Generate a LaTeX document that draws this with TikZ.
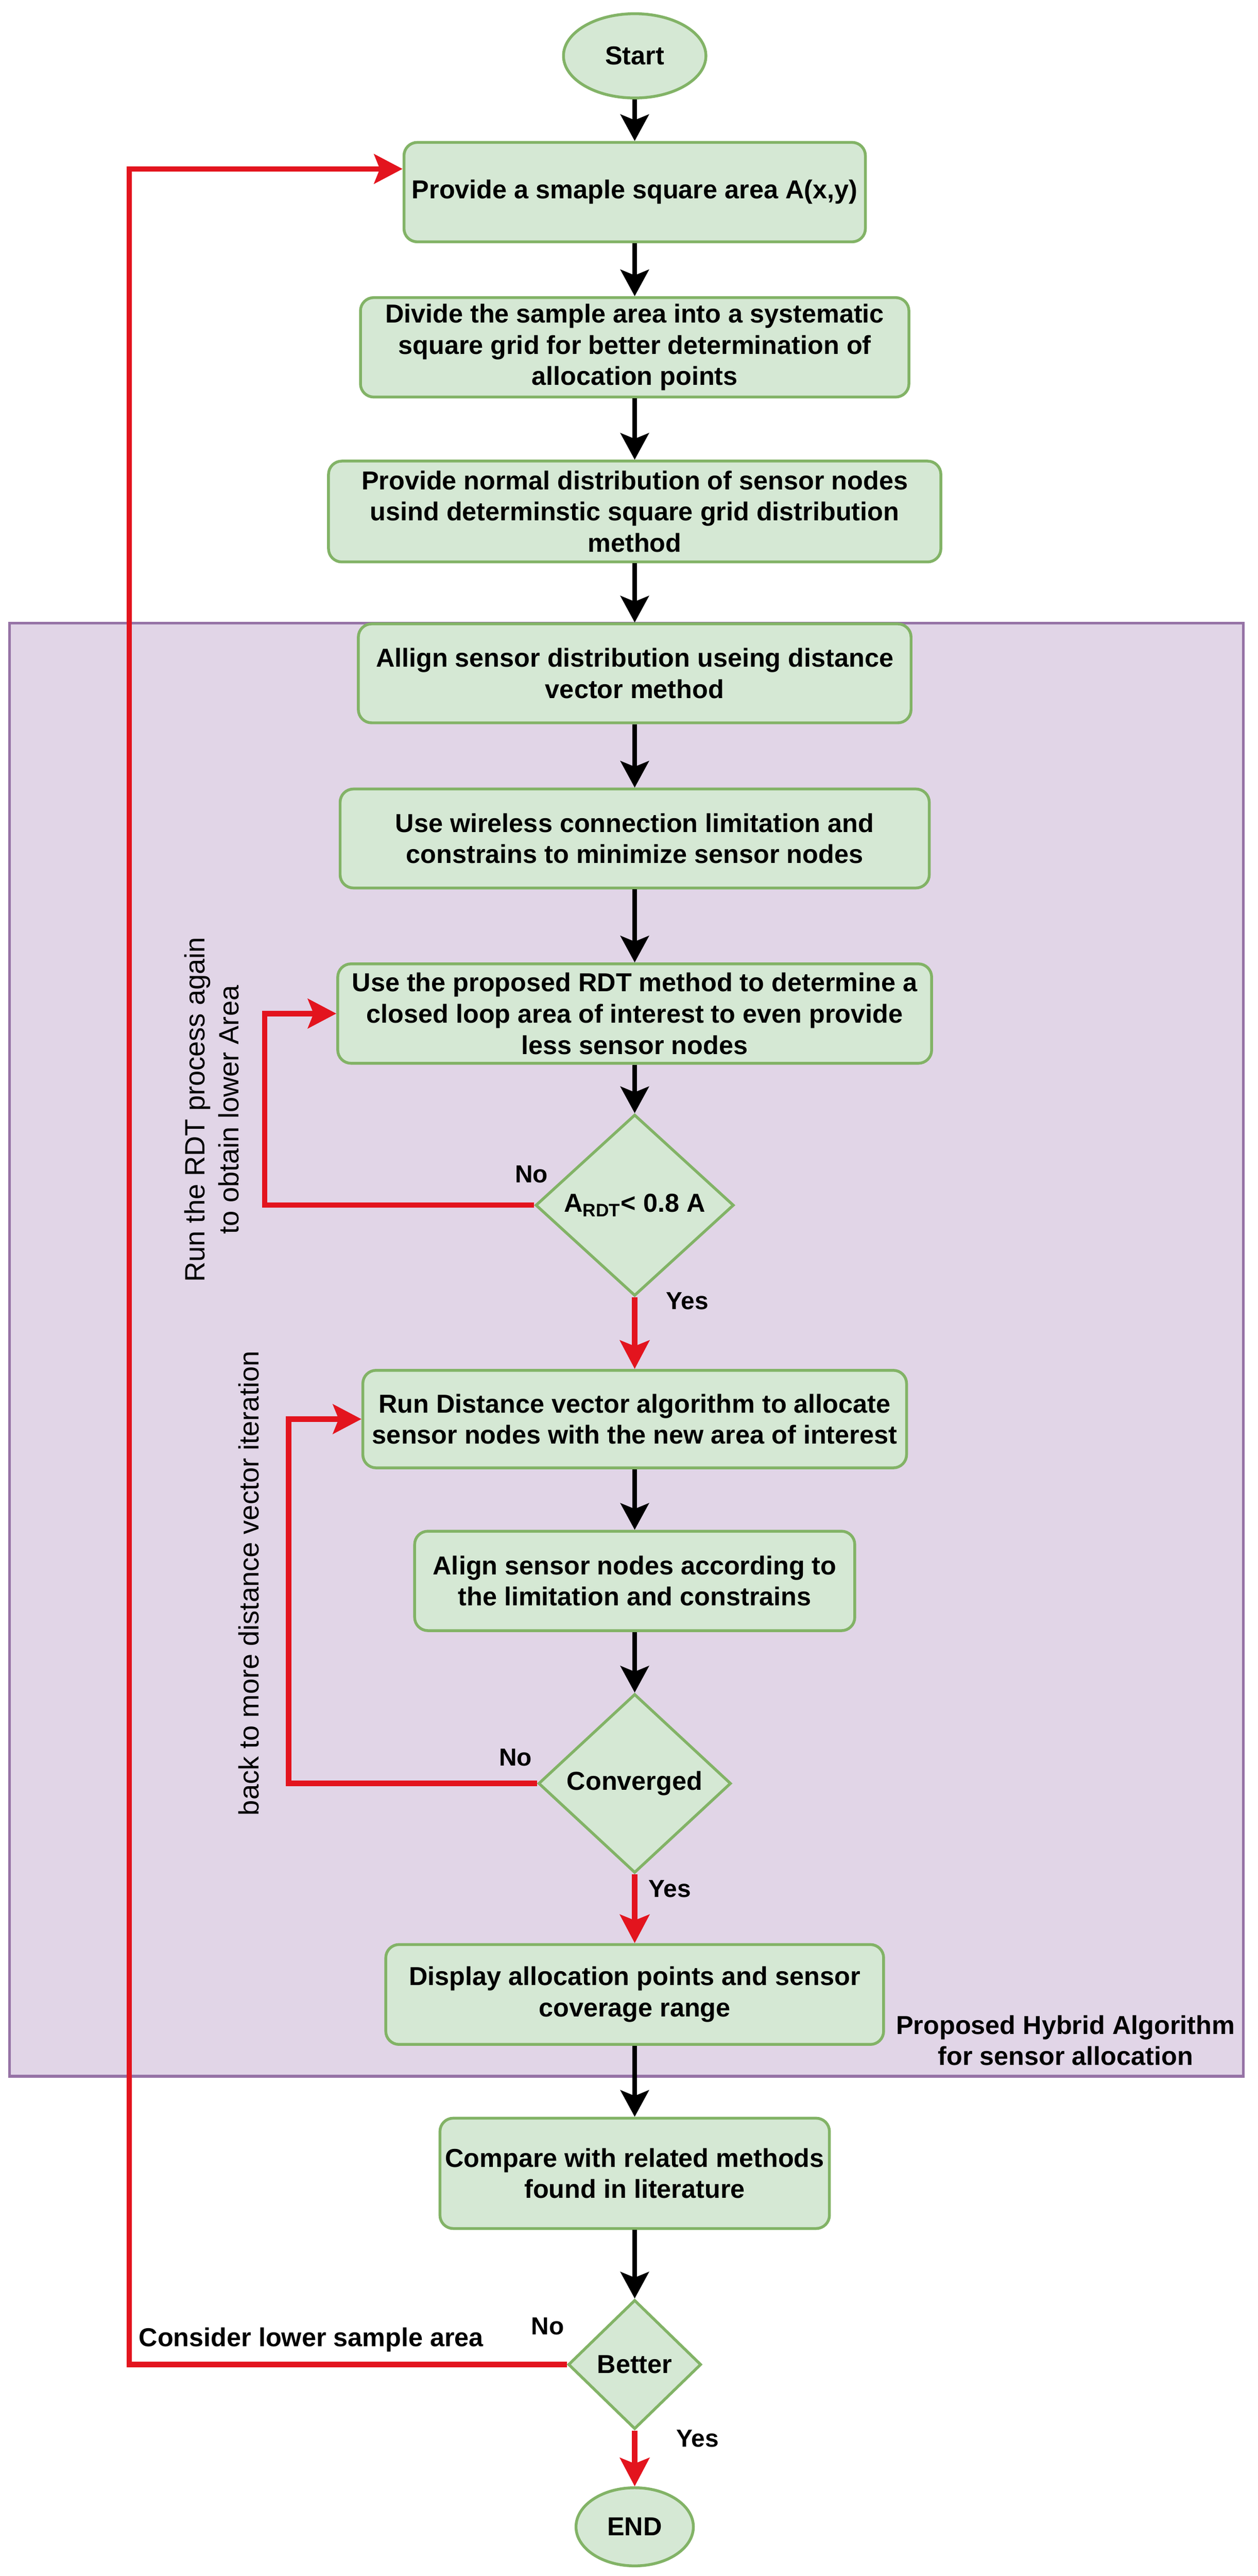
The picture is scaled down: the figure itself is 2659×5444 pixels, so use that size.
\documentclass[tikz,border=0pt]{standalone}
\usepackage{fontspec}
\setmainfont{Liberation Sans}
\usetikzlibrary{shapes.geometric,arrows.meta}
\definecolor{boxgreen}{HTML}{D5E8D4}
\definecolor{boxline}{HTML}{82B366}
\definecolor{hybridfill}{HTML}{E1D5E7}
\definecolor{hybridline}{HTML}{9673A6}
\definecolor{loopred}{HTML}{E3141E}
\begin{document}
\begin{tikzpicture}[x=0.01cm, y=-0.01cm,
    every node/.style={font=\fontsize{15.6}{18.8}\selectfont\bfseries},
    stepbox/.style={draw=boxline, fill=boxgreen, line width=1.7pt, rounded corners=0.28cm, align=center, inner sep=0pt, minimum height=2.1cm},
    startend/.style={ellipse, draw=boxline, fill=boxgreen, line width=1.7pt, inner sep=0pt},
    decision/.style={diamond, draw=boxline, fill=boxgreen, line width=1.7pt, inner sep=0pt},
    mainarrow/.style={black, line width=2.6pt, -{Stealth[length=0.56cm, width=0.6cm, inset=0.12cm]}},
    redarrow/.style={loopred, line width=3.2pt, -{Stealth[length=0.6cm, width=0.62cm, inset=0.12cm]}},
    lbl/.style={font=\fontsize{14.8}{17}\selectfont\bfseries, inner sep=0pt},
    sidenote/.style={font=\fontsize{16.8}{20.5}\selectfont, rotate=90, align=center, inner sep=0pt}]
        \useasboundingbox (0,0) rectangle (2659,5444);
        \draw[draw=hybridline, fill=hybridfill, line width=1.7pt] (20,1317) rectangle (2629,4388);

        \node[startend, minimum width=3.01cm, minimum height=1.78cm] (start) at (1342,118) {Start};
        \node[stepbox, minimum width=9.75cm] (area) at (1342,406) {Provide a smaple square area A(x,y)};
        \node[stepbox, minimum width=11.59cm] (grid) at (1342,734) {Divide the sample area into a systematic\\square grid for better determination of\\allocation points};
        \node[stepbox, minimum width=12.94cm, minimum height=2.13cm] (spread) at (1342,1081) {Provide normal distribution of sensor nodes\\usind determinstic square grid distribution\\method};
        \node[stepbox, minimum width=11.68cm, minimum height=2.09cm] (dvalign) at (1342,1423) {Allign sensor distribution useing distance\\vector method};
        \node[stepbox, minimum width=12.45cm, minimum height=2.09cm] (wireless) at (1342,1772) {Use wireless connection limitation and\\constrains to minimize sensor nodes};
        \node[stepbox, minimum width=12.55cm] (rdt) at (1342,2142) {Use the proposed RDT method to determine a\\closed loop area of interest to even provide\\less sensor nodes};
        \node[decision, minimum width=4.19cm, minimum height=3.83cm] (rdtcheck) at (1342,2547) {A\textsubscript{RDT}< 0.8 A};
        \node[stepbox, minimum width=11.49cm, minimum height=2.06cm] (dvrun) at (1342,2999) {Run Distance vector algorithm to allocate\\sensor nodes with the new area of interest};
        \node[stepbox, minimum width=9.30cm] (nodealign) at (1342,3341) {Align sensor nodes according to\\the limitation and constrains};
        \node[decision, minimum width=4.07cm, minimum height=3.78cm] (converged) at (1342,3769) {Converged};
        \node[stepbox, minimum width=10.52cm, minimum height=2.11cm] (display) at (1342,4215) {Display allocation points and sensor\\coverage range};
        \node[stepbox, minimum width=8.23cm, minimum height=2.33cm] (compare) at (1342,4593) {Compare with related methods\\found in literature};
        \node[decision, minimum width=2.81cm, minimum height=2.73cm] (better) at (1342,4997) {Better};
        \node[startend, minimum width=2.48cm, minimum height=1.65cm] (finish) at (1342,5340) {END};

        \node[lbl] (no1) at (1124,2482) {No};
        \node[lbl] (yes1) at (1453,2750) {Yes};
        \node[lbl] (no2) at (1090,3714) {No};
        \node[lbl] (yes2) at (1416,3992) {Yes};
        \node[lbl] (no3) at (1158,4916) {No};
        \node[lbl] (yes3) at (1475,5153) {Yes};
        \node[inner sep=0pt] (lower) at (658,4945) {Consider lower sample area};
        \node[inner sep=0pt, align=center] (hybrid) at (2253,4312) {Proposed Hybrid Algorithm\\for sensor allocation};
        \node[sidenote] (rdtnote) at (448,2345) {Run the RDT process again\\to obtain lower Area};
        \node[sidenote] (dvnote) at (526,3346) {back to more distance vector iteration};

        \foreach \a/\b in {start/area, area/grid, grid/spread, spread/dvalign, dvalign/wireless, wireless/rdt, rdt/rdtcheck, dvrun/nodealign, nodealign/converged, display/compare, compare/better}
            \draw[mainarrow] (\a.south) -- (\b.north);

        \draw[redarrow] (rdtcheck.south) -- (dvrun.north);
        \draw[redarrow] (converged.south) -- (display.north);
        \draw[redarrow] (better.south) -- (finish.north);
        \draw[redarrow] (rdtcheck.west) -- ++(-570,0) |- (rdt.west);
        \draw[redarrow] (converged.west) -- ++(-525,0) |- (dvrun.west);
        \coordinate (retry) at (273,357);
        \draw[redarrow] (better.west) -| (retry) -- (retry -| area.west);
\end{tikzpicture}
\end{document}
